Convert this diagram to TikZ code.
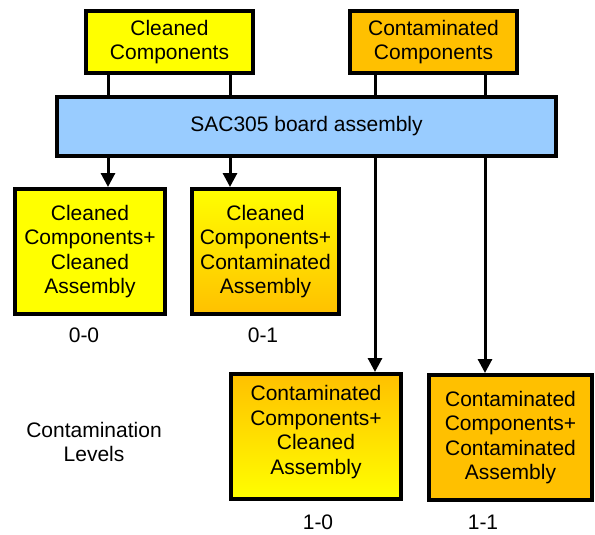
\documentclass[tikz,border=0pt]{standalone}
\usepackage{fontspec}
\setmainfont{Liberation Sans}
\usetikzlibrary{arrows.meta,shadows}
\definecolor{yel}{RGB}{255,255,0}
\definecolor{org}{RGB}{255,192,0}
\definecolor{blu}{RGB}{153,204,255}
\begin{document}
\begin{tikzpicture}[x=1pt,y=-1pt,
  txt/.style={font=\fontsize{21}{24.5}\selectfont, align=center},
  box/.style={txt, draw=black, line width=4pt, inner sep=0pt,
    drop shadow={shadow xshift=1.5pt, shadow yshift=-1.5pt, fill=black!35, opacity=1}},
  conn/.style={line width=3pt},
  arr/.style={line width=3pt, -{Triangle[length=14pt,width=14pt]}}]
\useasboundingbox (0,0) rectangle (595,535);
\node[box, fill=yel, minimum width=167pt, minimum height=62pt] (cc) at (169.5,42) {Cleaned\\Components};
\node[box, fill=org, minimum width=167pt, minimum height=62pt] (ct) at (433.5,42) {Contaminated\\Components};
\node[box, fill=blu, minimum width=499pt, minimum height=59pt] (sac) at (306.5,126.5) {SAC305 board assembly};
\node[box, fill=yel, minimum width=150pt, minimum height=125pt] (b00) at (90,251.5) {Cleaned\\Components+\\Cleaned\\Assembly};
\node[box, top color=yel, bottom color=org, minimum width=147pt, minimum height=125pt] (b01) at (265.5,251.5) {Cleaned\\Components+\\Contaminated\\Assembly};
\node[box, top color=org, bottom color=yel, minimum width=170pt, minimum height=125pt] (b10) at (316,436.5) {\raisebox{4pt}[\height][\depth]{\begin{tabular}{@{}c@{}}Contaminated\\Components+\\Cleaned\\Assembly\end{tabular}}};
\node[box, fill=org, minimum width=163pt, minimum height=125pt] (b11) at (510.5,437.5) {Contaminated\\Components+\\Contaminated\\Assembly};
\node[txt] (l00) at (84,335) {0-0};
\node[txt] (l01) at (263,335) {0-1};
\node[txt] (l10) at (318,522) {1-0};
\node[txt] (l11) at (483,522) {1-1};
\node[txt] (lev) at (94,442) {Contamination\\Levels};
\draw[conn] (cc.south -| 108,0) -- (sac.north -| 108,0);
\draw[conn] (cc.south -| 230,0) -- (sac.north -| 230,0);
\draw[conn] (ct.south -| 375,0) -- (sac.north -| 375,0);
\draw[conn] (ct.south -| 485,0) -- (sac.north -| 485,0);
\draw[arr] (sac.south -| 108,0) -- (b00.north -| 108,0);
\draw[arr] (sac.south -| 230,0) -- (b01.north -| 230,0);
\draw[arr] (sac.south -| 375,0) -- (b10.north -| 375,0);
\draw[arr] (sac.south -| 485,0) -- (b11.north -| 485,0);
\end{tikzpicture}
\end{document}
